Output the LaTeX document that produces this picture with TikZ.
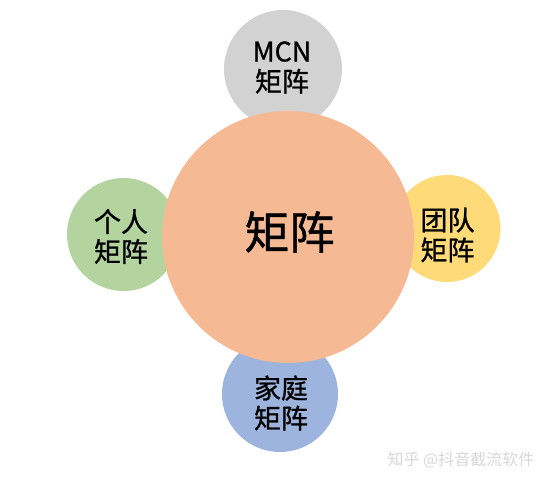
\documentclass[tikz,border=0pt]{standalone}
\usepackage{fontspec}
\setmainfont{Noto Sans CJK SC}
\newfontfamily\heavycjk[FakeBold=1]{Noto Sans CJK SC}
\definecolor{cgray}{HTML}{D2D2D2}
\definecolor{corange}{HTML}{F5B994}
\definecolor{cgreen}{HTML}{B3D49E}
\definecolor{cyellow}{HTML}{FEDA78}
\definecolor{cblue}{HTML}{9DB4DE}
\definecolor{cmark}{HTML}{D8D8D8}
\tikzset{
  disc/.style={circle, draw=none, inner sep=0pt},
  smalllabel/.style={align=center, font=\heavycjk\fontsize{27}{30}\selectfont, text=black, inner sep=0pt},
  biglabel/.style={font=\heavycjk\fontsize{45}{50}\selectfont, text=black, inner sep=0pt},
  marklabel/.style={font=\fontsize{16}{18}\selectfont, text=cmark, inner sep=0pt}
}
\begin{document}
\begin{tikzpicture}[x=1pt,y=-1pt]
\useasboundingbox (0,0) rectangle (552,486);
\fill[white] (0,0) rectangle (552,486);
\node[disc, fill=cgray, minimum size=118pt] (mcn) at (283,69) {};
\node[disc, fill=cgreen, minimum size=113pt] (ind) at (123.5,234.5) {};
\node[disc, fill=cyellow, minimum size=107pt] (team) at (447,228.5) {};
\node[disc, fill=cblue, minimum size=116pt] (fam) at (280,394) {};
\node[disc, fill=corange, minimum size=252pt] (core) at (288,237) {};
\node[smalllabel] (tmcn) at (282,67.5) {MCN\\矩阵};
\node[smalllabel] (tind) at (121,236.5) {个人\\矩阵};
\node[smalllabel] (tteam) at (447.5,235) {团队\\矩阵};
\node[smalllabel] (tfam) at (281,403) {家庭\\矩阵};
\node[biglabel] (tcore) at (289.5,232) {矩阵};
\node[marklabel] (wm) at (461,460) {知乎 @抖音截流软件};
\end{tikzpicture}
\end{document}
